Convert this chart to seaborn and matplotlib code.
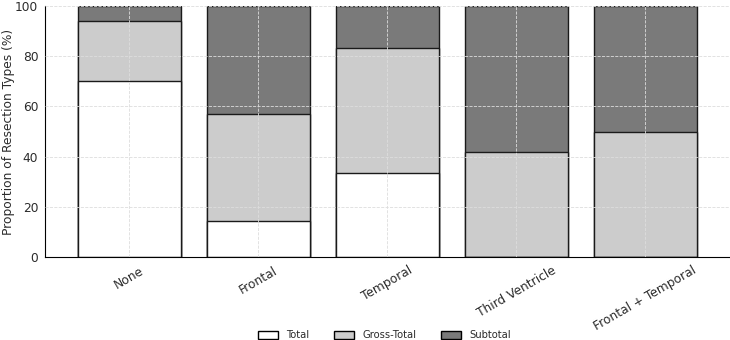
import pandas as pd
import seaborn as sns
import matplotlib.pyplot as plt
from matplotlib.patches import Patch

## resection proportions (%) per tumour location
locations = ["None", "Frontal", "Temporal", "Third Ventricle", "Frontal + Temporal"]
total = [70.0, 14.3, 33.3, 0.0, 0.0]
gross_total = [24.0, 42.9, 50.0, 41.7, 50.0]
subtotal = [6.0, 42.8, 16.7, 58.3, 50.0]

df = pd.DataFrame({"location": locations, "Total": total,
                   "Gross-Total": gross_total, "Subtotal": subtotal})
df["cum_gross"] = df["Total"] + df["Gross-Total"]
df["cum_sub"] = df["cum_gross"] + df["Subtotal"]

colors = {"Total": "white", "Gross-Total": "#cccccc", "Subtotal": "#7a7a7a"}

sns.set_style("white")
plt.rcParams["font.family"] = ["DejaVu Sans"]
plt.rcParams["text.color"] = "#2b2b2b"
plt.rcParams["xtick.color"] = "#2b2b2b"
plt.rcParams["ytick.color"] = "#2b2b2b"

fig, ax = plt.subplots(figsize=(7.3, 3.4), dpi=100)
fig.subplots_adjust(left=0.062, right=0.999, top=0.982, bottom=0.244)

# stacked bars drawn back to front with cumulative heights
for col, key in [("cum_sub", "Subtotal"), ("cum_gross", "Gross-Total"), ("Total", "Total")]:
    sns.barplot(data=df, x="location", y=col, color=colors[key], saturation=1,
                edgecolor="#1a1a1a", linewidth=1, width=0.8, ax=ax)

ax.set_ylim(0, 100)
ax.set_xlim(-0.65, 4.65)
ax.set_xlabel("")
ax.set_ylabel("Proportion of Resection Types (%)", fontsize=8.8, color="#2b2b2b")
ax.tick_params(axis="both", labelsize=8.8, length=3, pad=2)
plt.setp(ax.get_xticklabels(), rotation=30, ha="center")
ax.grid(True, linestyle="--", color="#dddddd", linewidth=0.6)
ax.set_axisbelow(False)
for sp in ["top", "right"]:
    ax.spines[sp].set_visible(False)
for sp in ["left", "bottom"]:
    ax.spines[sp].set_color("black")
ax.yaxis.set_label_coords(-0.044, 0.5)

handles = [Patch(facecolor=colors[k], edgecolor="black", label=k)
           for k in ["Total", "Gross-Total", "Subtotal"]]
fig.legend(handles=handles, loc="lower center", ncol=3, frameon=False,
           fontsize=7.2, bbox_to_anchor=(0.527, -0.027), columnspacing=2.5,
           handlelength=2, handleheight=0.8)

plt.savefig("out.png", dpi=100)
